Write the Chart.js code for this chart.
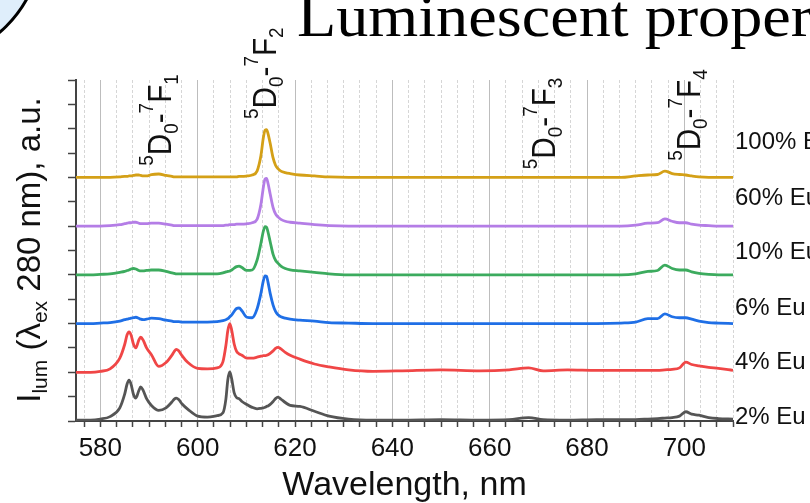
<!DOCTYPE html>
<html><head><meta charset="utf-8">
<script src="https://cdn.jsdelivr.net/npm/chart.js@4.4.0/dist/chart.umd.min.js"></script>
<style>html,body{margin:0;padding:0;background:#fff;overflow:hidden}canvas{display:block}</style>
</head><body>
<canvas id="c" width="810" height="503"></canvas>
<script>
// ---------- data ----------
const wavelength = [575, 578, 580, 582, 584, 585, 585.5, 585.9, 586.3, 586.8,
  587.3, 587.9, 588.3, 588.8, 589.5, 590.5, 592, 593.5, 594.7, 595.2,
  595.6, 596.1, 596.8, 598, 600, 602, 604, 605.2, 605.8, 606.2,
  606.6, 607.0, 607.5, 608, 608.5, 609.1, 610.1, 611.2, 612.2, 613,
  613.5, 613.85, 614.15, 614.45, 614.9, 615.5, 616.0, 616.5, 617.1, 618,
  619, 621, 624, 627, 631, 636, 642, 650, 658, 664,
  668, 671, 676, 682, 687, 690, 692.5, 694.5, 696, 697.5,
  699, 700.3, 701.5, 703, 705, 707, 710];

const eu2 = [0.02,0.02,0.04,0.09,0.27,0.55,0.76,0.84,0.76,0.55,
  0.47,0.62,0.70,0.63,0.46,0.32,0.22,0.27,0.39,0.45,
  0.47,0.44,0.35,0.24,0.10,0.08,0.11,0.17,0.45,0.85,
  1.01,0.86,0.58,0.48,0.46,0.40,0.34,0.28,0.25,0.26,
  0.27,0.28,0.30,0.31,0.34,0.40,0.46,0.49,0.45,0.38,
  0.32,0.30,0.20,0.10,0.04,0.02,0.02,0.03,0.02,0.03,
  0.07,0.03,0.02,0.03,0.03,0.03,0.04,0.05,0.06,0.07,
  0.10,0.19,0.14,0.12,0.07,0.05,0.04];
const eu4 = [0.00,0.00,0.02,0.07,0.29,0.57,0.77,0.83,0.77,0.58,
  0.50,0.66,0.72,0.66,0.50,0.36,0.12,0.20,0.35,0.43,
  0.47,0.44,0.34,0.20,0.08,0.07,0.09,0.22,0.55,0.86,
  1.00,0.86,0.58,0.43,0.38,0.35,0.29,0.29,0.31,0.33,
  0.34,0.34,0.35,0.36,0.39,0.44,0.49,0.51,0.48,0.41,
  0.35,0.27,0.17,0.11,0.05,0.02,0.03,0.05,0.03,0.05,
  0.09,0.03,0.05,0.04,0.04,0.04,0.04,0.04,0.05,0.06,
  0.09,0.21,0.16,0.13,0.10,0.08,0.04];
const eu6 = [0.00,0.00,0.01,0.02,0.05,0.08,0.09,0.10,0.11,0.12,
  0.13,0.11,0.09,0.08,0.09,0.11,0.10,0.07,0.05,0.04,
  0.04,0.04,0.03,0.03,0.03,0.03,0.04,0.06,0.08,0.10,
  0.14,0.18,0.25,0.31,0.32,0.26,0.13,0.12,0.30,0.62,
  0.88,0.98,0.97,0.85,0.62,0.38,0.25,0.18,0.14,0.11,
  0.09,0.07,0.05,0.02,0.01,0.00,0.00,0.00,0.00,0.00,
  0.00,0.00,0.00,0.00,0.01,0.03,0.10,0.10,0.20,0.14,
  0.12,0.12,0.09,0.05,0.02,0.01,0.00];
const eu10 = [0.00,0.00,0.01,0.02,0.05,0.07,0.09,0.10,0.12,0.13,
  0.12,0.09,0.08,0.08,0.09,0.10,0.10,0.07,0.04,0.03,
  0.02,0.02,0.02,0.02,0.02,0.02,0.02,0.04,0.06,0.07,
  0.08,0.10,0.14,0.17,0.18,0.15,0.09,0.10,0.30,0.65,
  0.90,0.99,0.98,0.88,0.68,0.42,0.30,0.24,0.18,0.13,
  0.10,0.08,0.05,0.02,0.00,0.00,0.00,0.00,0.00,0.00,
  0.00,0.00,0.00,0.00,0.00,0.02,0.07,0.09,0.20,0.13,
  0.10,0.10,0.06,0.03,0.01,0.00,0.00];
const eu60 = [0.00,0.00,0.00,0.01,0.03,0.05,0.06,0.07,0.07,0.08,
  0.08,0.06,0.05,0.05,0.05,0.06,0.06,0.04,0.02,0.01,
  0.01,0.01,0.01,0.01,0.01,0.01,0.01,0.01,0.02,0.02,
  0.03,0.03,0.03,0.04,0.04,0.04,0.05,0.07,0.14,0.45,
  0.80,0.97,0.98,0.88,0.66,0.38,0.25,0.19,0.14,0.10,
  0.08,0.06,0.03,0.01,0.00,0.00,0.00,0.00,0.00,0.00,
  0.00,0.00,0.00,0.00,0.00,0.02,0.06,0.07,0.15,0.10,
  0.07,0.07,0.04,0.02,0.01,0.00,0.00];
const eu100 = [0.00,0.00,0.00,0.00,0.01,0.02,0.02,0.03,0.03,0.04,
  0.05,0.05,0.04,0.03,0.03,0.06,0.07,0.04,0.02,0.01,
  0.01,0.01,0.01,0.01,0.01,0.01,0.01,0.01,0.01,0.01,
  0.01,0.01,0.01,0.01,0.02,0.02,0.03,0.05,0.13,0.45,
  0.82,0.97,0.98,0.90,0.70,0.40,0.25,0.18,0.13,0.10,
  0.08,0.05,0.03,0.01,0.00,0.00,0.00,0.00,0.00,0.00,
  0.00,0.00,0.00,0.00,0.00,0.03,0.05,0.06,0.13,0.08,
  0.06,0.05,0.03,0.01,0.00,0.00,0.00];

const seriesNames = ['2% Eu', '4% Eu', '6% Eu', '10% Eu', '60% Eu', '100% Eu'];
const seriesValues = [eu2, eu4, eu6, eu10, eu60, eu100];
const seriesOffsets = [0, 1, 2, 3, 4, 5];           // vertical stacking of the spectra
const seriesColors = ['#555555', '#f04646', '#1f6fe6', '#3cab5e', '#b47de6', '#d4a017'];
const labelY = [0.07, 1.21, 2.32, 3.46, 4.56, 5.71]; // right-side label heights (axis units)

const majorTicks = [580, 600, 620, 640, 660, 680, 700];
const minorPerMajor = 6;
const xMin = 575, xMax = 710, yMin = 0, yMax = 7;

const transitions = [
  { nm: 594.6, y: 5.24, sub: '1' },
  { nm: 616.1, y: 6.20, sub: '2' },
  { nm: 673.5, y: 5.17, sub: '3' },
  { nm: 703.3, y: 5.34, sub: '4' }
];
const titleText = 'Luminescent properties';

// ---------- helpers ----------
const isMajor = v => v !== undefined && majorTicks.some(m => Math.abs(m - v) < 1e-6);
const SANS = '"Liberation Sans", Arial, sans-serif';

function drawRich(ctx, parts, size) {
  let cx = 0;
  for (const p of parts) {
    const s = p.k ? Math.round(size * 0.64) : size;
    ctx.font = s + 'px ' + SANS;
    const dy = p.k === 'sup' ? -size * 0.55 : p.k === 'sub' ? size * 0.2 : 0;
    ctx.fillText(p.t, cx, dy);
    cx += ctx.measureText(p.t).width;
  }
  return cx;
}
function richWidth(ctx, parts, size) {
  let w = 0;
  for (const p of parts) {
    const s = p.k ? Math.round(size * 0.64) : size;
    ctx.font = s + 'px ' + SANS;
    w += ctx.measureText(p.t).width;
  }
  return w;
}

const decor = {
  id: 'decor',
  beforeDraw(chart) {
    const ctx = chart.ctx;
    ctx.save();
    ctx.fillStyle = '#fff';
    ctx.fillRect(0, 0, chart.width, chart.height);
    ctx.beginPath();
    ctx.arc(-80, -60, 122, 0, Math.PI * 2);
    ctx.fillStyle = '#dfeefb';
    ctx.fill();
    ctx.lineWidth = 3;
    ctx.strokeStyle = '#000';
    ctx.stroke();
    ctx.save();
    ctx.translate(297, 36);
    ctx.scale(1.07, 1);
    ctx.font = '60px "Liberation Serif", "Times New Roman", serif';
    ctx.fillStyle = '#000';
    ctx.textBaseline = 'alphabetic';
    ctx.fillText(titleText, 0, 0);
    ctx.restore();
    ctx.restore();
  },
  afterDraw(chart) {
    const ctx = chart.ctx;
    const xs = chart.scales.x, ys = chart.scales.y;
    ctx.save();
    ctx.fillStyle = '#111';
    ctx.textBaseline = 'alphabetic';
    // y-axis title
    const yt = [{t:'I'},{t:'lum',k:'sub'},{t:' ('},{t:'λ'},{t:'ex',k:'sub'},{t:' 280 nm), a.u.'}];
    const size = 33;
    const w = richWidth(ctx, yt, size);
    ctx.save();
    ctx.translate(40, 250 + w / 2);
    ctx.rotate(-Math.PI / 2);
    drawRich(ctx, yt, size);
    ctx.restore();
    // transition annotations
    for (const tr of transitions) {
      const parts = [{t:'5',k:'sup'},{t:'D'},{t:'0',k:'sub'},{t:'-'},{t:'7',k:'sup'},{t:'F'},{t:tr.sub,k:'sub'}];
      ctx.save();
      ctx.translate(xs.getPixelForValue(tr.nm), ys.getPixelForValue(tr.y));
      ctx.rotate(-Math.PI / 2);
      ctx.scale(0.9, 1);
      drawRich(ctx, parts, 33);
      ctx.restore();
    }
    // series labels
    ctx.font = '24px ' + SANS;
    ctx.textBaseline = 'middle';
    seriesNames.forEach((n, i) => {
      ctx.fillText(n, xs.right + 2, ys.getPixelForValue(labelY[i]));
    });
    ctx.restore();
  }
};

const datasets = seriesNames.map((name, i) => ({
  label: name,
  data: wavelength.map((w, j) => ({ x: w, y: seriesValues[i][j] + seriesOffsets[i] })),
  borderColor: seriesColors[i],
  backgroundColor: seriesColors[i],
  borderWidth: 2.8,
  pointRadius: 0,
  fill: false,
  cubicInterpolationMode: 'monotone'
}));

new Chart(document.getElementById('c'), {
  type: 'line',
  data: { datasets },
  options: {
    responsive: false,
    animation: false,
    devicePixelRatio: 1,
    layout: { padding: { left: 0, right: 77, top: 80, bottom: 0 } },
    plugins: { legend: { display: false }, tooltip: { enabled: false } },
    scales: {
      x: {
        type: 'linear', min: xMin, max: xMax,
        afterBuildTicks: s => {
          const step = (majorTicks[1] - majorTicks[0]) / minorPerMajor;
          const t = [];
          for (let i = -minorPerMajor; i <= 100; i++) {
            const v = majorTicks[0] + i * step;
            if (v >= xMin - 1e-6 && v <= xMax + 1e-6) t.push({ value: Math.round(v * 1e6) / 1e6 });
          }
          s.ticks = t;
        },
        afterFit: s => { s.height = 82; },
        ticks: {
          autoSkip: false, maxRotation: 0, padding: 6, color: '#111',
          font: { family: SANS, size: 26 },
          callback: v => isMajor(v) ? String(Math.round(v)) : ''
        },
        grid: {
          color: c => isMajor(c.tick && c.tick.value) ? '#bdbdbd' : '#d6d6d6',
          lineWidth: 1, drawTicks: true, tickLength: 6, tickColor: '#444', tickWidth: 1.5
        },
        border: { display: true, color: '#444', width: 2,
          dash: c => (c.tick && !isMajor(c.tick.value)) ? [3, 2] : [] },
        title: { display: true, text: 'Wavelength, nm', color: '#111',
          font: { family: SANS, size: 34, lineHeight: 1 },
          padding: { top: 0, bottom: 0 } }
      },
      y: {
        type: 'linear', min: yMin, max: yMax,
        afterBuildTicks: s => {
          const t = [];
          for (let v = yMin; v <= yMax + 1e-6; v += 0.5) t.push({ value: v });
          s.ticks = t;
        },
        afterFit: s => { s.width = 76; },
        ticks: { display: false },
        grid: { drawOnChartArea: false, drawTicks: true, tickLength: 8, tickColor: '#444', tickWidth: 1.5 },
        border: { display: true, color: '#444', width: 2 }
      }
    }
  },
  plugins: [decor]
});
</script>
</body></html>
